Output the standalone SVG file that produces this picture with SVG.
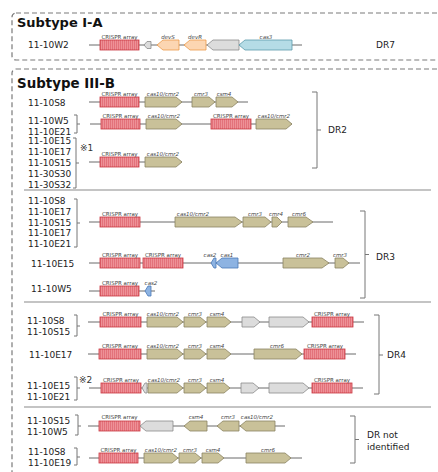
<svg xmlns="http://www.w3.org/2000/svg" width="438" height="472" viewBox="0 0 438 472">
<defs>
<pattern id="crispr" patternUnits="userSpaceOnUse" width="2" height="20">
<rect width="2" height="20" fill="#ee9197"/>
<rect x="0" width="0.6" height="20" fill="#dc5e68"/>
</pattern>
<style>
.box{fill:none;stroke:#7a7a7a;stroke-width:1.2;stroke-dasharray:5,3}
.div{stroke:#8a8a8a;stroke-width:1.1}
.bb{stroke:#6b6b6b;stroke-width:1}
.cr{fill:url(#crispr);stroke:#c9363f;stroke-width:0.8}
.ol{fill:#c9c199;stroke:#8c8462;stroke-width:0.8}
.gy{fill:#dcdcdc;stroke:#8a8a8a;stroke-width:0.8}
.or{fill:#fcd6b2;stroke:#eb9a4a;stroke-width:0.8}
.lb{fill:#b5dce6;stroke:#5b9aab;stroke-width:0.8}
.bl{fill:#8db3e2;stroke:#4a78b8;stroke-width:0.8}
.br{fill:none;stroke:#777;stroke-width:1}
.gl{font-family:"DejaVu Sans",sans-serif;font-size:5.5px;font-style:italic;fill:#444;text-anchor:middle}
.cl{font-family:"DejaVu Sans",sans-serif;font-size:5.5px;fill:#444;text-anchor:middle}
.rl{font-family:"DejaVu Sans",sans-serif;font-size:9px;fill:#222}
.tt{font-family:"DejaVu Sans",sans-serif;font-size:13px;font-weight:bold;fill:#111}
.nt{font-family:"DejaVu Sans","Noto Sans CJK JP",sans-serif;font-size:9px;fill:#333}
</style>
</defs>
<rect width="438" height="472" fill="#fff"/>

<g id="subtype-IA">
<rect class="box" x="12" y="13" width="440" height="47" rx="4"/>
<text class="tt" x="17" y="27">Subtype I-A</text>
</g>
<g id="subtype-IIIB">
<rect class="box" x="12" y="69" width="440" height="420" rx="4"/>
<text class="tt" x="17" y="88" style="font-size:13.4px">Subtype III-B</text>
<line class="div" x1="24" y1="190" x2="431" y2="190"/>
<line class="div" x1="24" y1="302" x2="431" y2="302"/>
<line class="div" x1="24" y1="407" x2="431" y2="407"/>
</g>

<g id="connectors">
<line class="bb" x1="89" y1="45" x2="302" y2="45"/>
<line class="bb" x1="89" y1="102" x2="248" y2="102"/>
<line class="bb" x1="90" y1="124" x2="292" y2="124"/>
<line class="bb" x1="89" y1="162" x2="182" y2="162"/>
<line class="bb" x1="89" y1="222" x2="333" y2="222"/>
<line class="bb" x1="89" y1="263" x2="360" y2="263"/>
<line class="bb" x1="89" y1="291" x2="155" y2="291"/>
<line class="bb" x1="88" y1="322" x2="364" y2="322"/>
<line class="bb" x1="88" y1="354" x2="356" y2="354"/>
<line class="bb" x1="89" y1="388" x2="363" y2="388"/>
<line class="bb" x1="88" y1="426" x2="285" y2="426"/>
<line class="bb" x1="89" y1="458" x2="302" y2="458"/>
</g>

<g id="row-IA">
<text class="rl" x="28" y="48">11-10W2</text>
<rect class="cr" x="100" y="40" width="39" height="10"/>
<polygon class="gy" points="151,41.5 147,41.5 144,45 147,48.5 151,48.5"/>
<polygon class="or" points="179,40 163,40 157,45 163,50 179,50"/>
<polygon class="or" points="206,40 190,40 184,45 190,50 206,50"/>
<polygon class="gy" points="239,40 213,40 207,45 213,50 239,50"/>
<polygon class="lb" points="292,40 245,40 239,45 245,50 292,50"/>
<text class="cl" x="119.5" y="38.5">CRISPR array</text>
<text class="gl" x="168" y="38.5">devS</text>
<text class="gl" x="195" y="38.5">devR</text>
<text class="gl" x="266" y="38.5">cas3</text>
<text class="rl" x="376" y="48">DR7</text>
</g>

<g id="row-DR2-1">
<text class="rl" x="28" y="106">11-10S8</text>
<rect class="cr" x="100" y="97" width="39" height="10"/>
<polygon class="ol" points="145,97 176,97 182,102 176,107 145,107"/>
<polygon class="ol" points="192,97 209,97 215,102 209,107 192,107"/>
<polygon class="ol" points="216,97 232,97 238,102 232,107 216,107"/>
<text class="cl" x="119.5" y="95.5">CRISPR array</text>
<text class="gl" x="163" y="95.5">cas10/cmr2</text>
<text class="gl" x="201" y="95.5">cmr3</text>
<text class="gl" x="224" y="95.5">csm4</text>
</g>

<g id="row-DR2-2">
<text class="rl" x="28" y="123.5">11-10W5</text>
<text class="rl" x="28" y="134.5">11-10E21</text>
<path class="br" d="M74,115 H77 V133 H74 M77,124 H80"/>
<rect class="cr" x="101" y="119" width="39" height="10"/>
<polygon class="ol" points="146,119 176,119 182,124 176,129 146,129"/>
<rect class="cr" x="211" y="119" width="40" height="10"/>
<polygon class="ol" points="256,119 286,119 292,124 286,129 256,129"/>
<text class="cl" x="120.5" y="117.5">CRISPR array</text>
<text class="gl" x="164" y="117.5">cas10/cmr2</text>
<text class="cl" x="231" y="117.5">CRISPR array</text>
<text class="gl" x="274" y="117.5">cas10/cmr2</text>
</g>

<g id="row-DR2-3">
<text class="rl" x="28" y="144.3">11-10E15</text>
<text class="rl" x="28" y="155.3">11-10E17</text>
<text class="rl" x="28" y="166.3">11-10S15</text>
<text class="rl" x="28" y="177.3">11-30S30</text>
<text class="rl" x="28" y="188.3">11-30S32</text>
<path class="br" d="M73,138 H76 V188 H73 M76,163 H79"/>
<text class="nt" x="80" y="151">※1</text>
<rect class="cr" x="100" y="157" width="39" height="10"/>
<polygon class="ol" points="145,157 176,157 182,162 176,167 145,167"/>
<text class="cl" x="119.5" y="155.5">CRISPR array</text>
<text class="gl" x="163" y="155.5">cas10/cmr2</text>
</g>

<g id="bracket-DR2">
<path class="br" d="M312,92 H317 V168 H312 M317,130 H321"/>
<text class="rl" x="328" y="133">DR2</text>
</g>

<g id="row-DR3-1">
<text class="rl" x="28" y="204.3">11-10S8</text>
<text class="rl" x="28" y="215">11-10E17</text>
<text class="rl" x="28" y="225.7">11-10S15</text>
<text class="rl" x="28" y="236.4">11-10E17</text>
<text class="rl" x="28" y="247.1">11-10E21</text>
<path class="br" d="M74,199 H77 V247 H74 M77,223 H80"/>
<rect class="cr" x="100" y="217" width="40" height="10"/>
<polygon class="ol" points="175,217 235,217 242,222 235,227 175,227"/>
<polygon class="ol" points="243,217 265,217 271,222 265,227 243,227"/>
<polygon class="ol" points="272,217 277,217 282,222 277,227 272,227"/>
<polygon class="ol" points="288,217 306,217 313,222 306,227 288,227"/>
<text class="cl" x="120" y="215.5">CRISPR array</text>
<text class="gl" x="193" y="215.5">cas10/cmr2</text>
<text class="gl" x="255" y="215.5">cmr3</text>
<text class="gl" x="276" y="215.5">cmr4</text>
<text class="gl" x="299" y="215.5">cmr6</text>
</g>

<g id="row-DR3-2">
<text class="rl" x="31" y="267">11-10E15</text>
<rect class="cr" x="100" y="258" width="40" height="10"/>
<rect class="cr" x="143" y="258" width="40" height="10"/>
<polygon class="bl" points="216,258 214,258 211,263 214,268 216,268"/>
<polygon class="bl" points="238,258 222,258 216,263 222,268 238,268"/>
<polygon class="ol" points="283,258 322,258 329,263 322,268 283,268"/>
<polygon class="ol" points="335,258 343,258 349,263 343,268 335,268"/>
<text class="cl" x="120" y="256.5">CRISPR array</text>
<text class="cl" x="163" y="256.5">CRISPR array</text>
<text class="gl" x="210" y="256.5">cas2</text>
<text class="gl" x="227" y="256.5">cas1</text>
<text class="gl" x="303" y="256.5">cmr2</text>
<text class="gl" x="340" y="256.5">cmr3</text>
</g>

<g id="row-DR3-3">
<text class="rl" x="31" y="292">11-10W5</text>
<rect class="cr" x="100" y="286" width="39" height="10"/>
<polygon class="bl" points="151,286 148,286 145,291 148,296 151,296"/>
<text class="cl" x="120" y="284.5">CRISPR array</text>
<text class="gl" x="151" y="284.5">cas2</text>
</g>

<g id="bracket-DR3">
<path class="br" d="M360,211 H365 V298 H360 M365,254.5 H369"/>
<text class="rl" x="376" y="260">DR3</text>
</g>

<g id="row-DR4-1">
<text class="rl" x="27" y="324.3">11-10S8</text>
<text class="rl" x="27" y="335.3">11-10S15</text>
<path class="br" d="M74,315 H77 V336 H74 M77,326 H80"/>
<rect class="cr" x="100" y="317" width="41" height="10"/>
<polygon class="ol" points="147,317 177,317 183,322 177,327 147,327"/>
<polygon class="ol" points="184,317 200,317 206,322 200,327 184,327"/>
<polygon class="ol" points="207,317 225,317 231,322 225,327 207,327"/>
<polygon class="gy" points="242,317 254,317 260,322 254,327 242,327"/>
<polygon class="gy" points="269,317 303,317 309,322 303,327 269,327"/>
<rect class="cr" x="312" y="317" width="41" height="10"/>
<text class="cl" x="120.5" y="315.5">CRISPR array</text>
<text class="gl" x="163" y="315.5">cas10/cmr2</text>
<text class="gl" x="195" y="315.5">cmr3</text>
<text class="gl" x="217" y="315.5">csm4</text>
<text class="cl" x="332" y="315.5">CRISPR array</text>
</g>

<g id="row-DR4-2">
<text class="rl" x="29" y="358">11-10E17</text>
<rect class="cr" x="99" y="349" width="42" height="10"/>
<polygon class="ol" points="147,349 177,349 183,354 177,359 147,359"/>
<polygon class="ol" points="184,349 200,349 206,354 200,359 184,359"/>
<polygon class="ol" points="207,349 225,349 231,354 225,359 207,359"/>
<polygon class="ol" points="254,349 296,349 302,354 296,359 254,359"/>
<rect class="cr" x="304" y="349" width="41" height="10"/>
<text class="cl" x="120" y="347.5">CRISPR array</text>
<text class="gl" x="163" y="347.5">cas10/cmr2</text>
<text class="gl" x="195" y="347.5">cmr3</text>
<text class="gl" x="217" y="347.5">csm4</text>
<text class="gl" x="277" y="347.5">cmr6</text>
<text class="cl" x="325" y="347.5">CRISPR array</text>
</g>

<g id="row-DR4-3">
<text class="rl" x="27" y="389.3">11-10E15</text>
<text class="rl" x="27" y="400.3">11-10E21</text>
<path class="br" d="M74,377 H77 V400 H74 M77,388 H80"/>
<text class="nt" x="79" y="383">※2</text>
<rect class="cr" x="101" y="383" width="40" height="10"/>
<polygon class="gy" points="147,383 145,383 142,388 145,393 147,393"/>
<polygon class="ol" points="148,383 177,383 183,388 177,393 148,393"/>
<polygon class="ol" points="184,383 200,383 206,388 200,393 184,393"/>
<polygon class="ol" points="207,383 224,383 230,388 224,393 207,393"/>
<polygon class="gy" points="241,383 253,383 259,388 253,393 241,393"/>
<polygon class="gy" points="269,383 303,383 309,388 303,393 269,393"/>
<rect class="cr" x="312" y="383" width="40" height="10"/>
<text class="cl" x="121" y="381.5">CRISPR array</text>
<text class="gl" x="164" y="381.5">cas10/cmr2</text>
<text class="gl" x="195" y="381.5">cmr3</text>
<text class="gl" x="217" y="381.5">csm4</text>
<text class="cl" x="332" y="381.5">CRISPR array</text>
</g>

<g id="bracket-DR4">
<path class="br" d="M374,315 H379 V394 H374 M379,355 H383"/>
<text class="rl" x="387" y="358">DR4</text>
</g>

<g id="row-DRni-1">
<text class="rl" x="27" y="424.3">11-10S15</text>
<text class="rl" x="27" y="435.3">11-10W5</text>
<path class="br" d="M75,415 H78 V435 H75 M78,426 H81"/>
<rect class="cr" x="99" y="421" width="41" height="10"/>
<polygon class="gy" points="173,421 146,421 140,426 146,431 173,431"/>
<polygon class="ol" points="207,421 190,421 184,426 190,431 207,431"/>
<polygon class="ol" points="239,421 223,421 217,426 223,431 239,431"/>
<polygon class="ol" points="275,421 246,421 240,426 246,431 275,431"/>
<text class="cl" x="119.5" y="419">CRISPR array</text>
<text class="gl" x="196" y="419">csm4</text>
<text class="gl" x="228" y="419">cmr3</text>
<text class="gl" x="257" y="419">cas10/cmr2</text>
</g>

<g id="row-DRni-2">
<text class="rl" x="28" y="455.3">11-10S8</text>
<text class="rl" x="28" y="466.3">11-10E19</text>
<path class="br" d="M74,448 H77 V465 H74 M77,457 H80"/>
<rect class="cr" x="99" y="453" width="39" height="10"/>
<polygon class="ol" points="144,453 172,453 178,458 172,463 144,463"/>
<polygon class="ol" points="179,453 195,453 201,458 195,463 179,463"/>
<polygon class="ol" points="202,453 218,453 224,458 218,463 202,463"/>
<polygon class="ol" points="246,453 285,453 291,458 285,463 246,463"/>
<text class="cl" x="118.5" y="451.5">CRISPR array</text>
<text class="gl" x="161" y="451.5">cas10/cmr2</text>
<text class="gl" x="190" y="451.5">cmr3</text>
<text class="gl" x="213" y="451.5">csm4</text>
<text class="gl" x="268" y="451.5">cmr6</text>
</g>

<g id="bracket-DRni">
<path class="br" d="M350,416 H355 V463 H350 M355,439.5 H359"/>
<text class="rl" x="367" y="438.3">DR not</text>
<text class="rl" x="367" y="450">identified</text>
</g>
</svg>
